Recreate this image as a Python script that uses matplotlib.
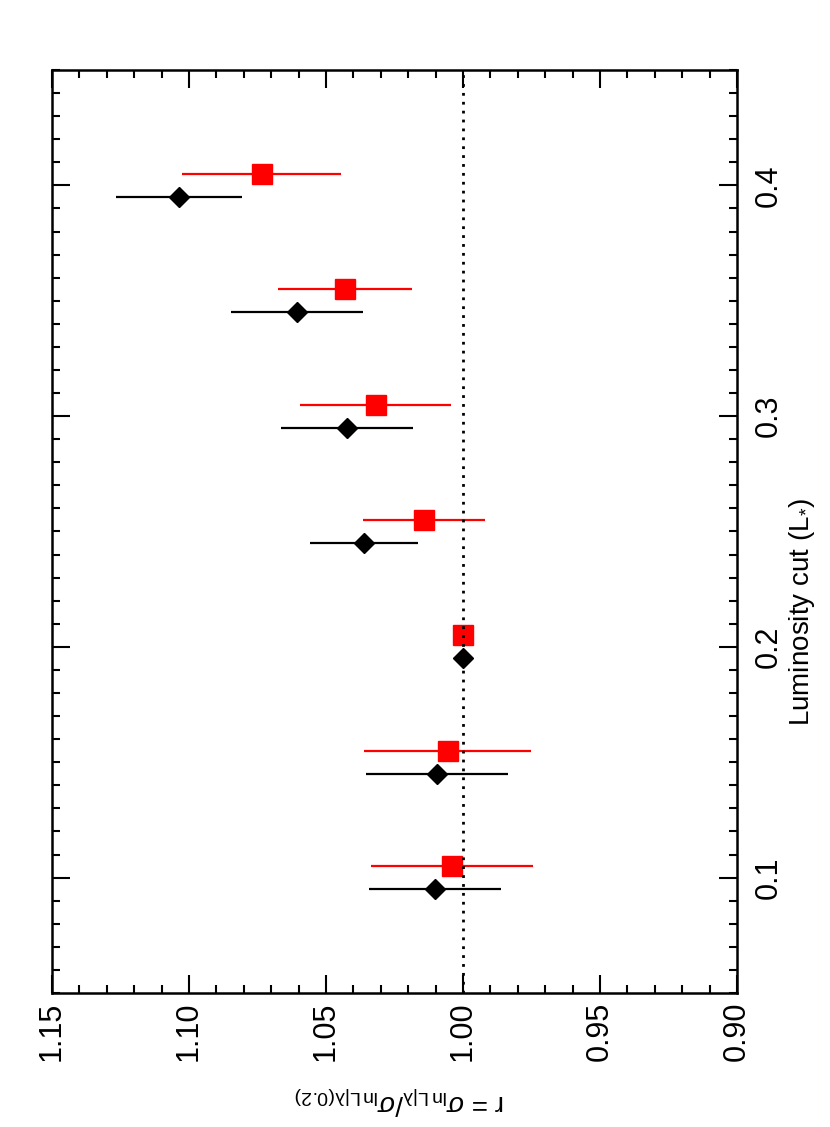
import numpy as np
import matplotlib.pyplot as plt
from matplotlib.ticker import MultipleLocator, FormatStrFormatter

plt.rcParams['font.family'] = ['Liberation Sans', 'DejaVu Sans']
plt.rcParams['mathtext.fontset'] = 'custom'
plt.rcParams['mathtext.rm'] = 'Liberation Sans'
plt.rcParams['mathtext.it'] = 'Liberation Sans:italic'

# Datos
lum_black = [0.095, 0.145, 0.195, 0.245, 0.295, 0.345, 0.395]
r_black = [1.0102, 1.0095, 1.000, 1.0361, 1.0423, 1.0606, 1.1036]
err_black = [0.024, 0.026, 0.0, 0.0197, 0.024, 0.024, 0.023]

lum_red = [0.105, 0.155, 0.205, 0.255, 0.305, 0.355, 0.405]
r_red = [1.004, 1.0055, 1.000, 1.0142, 1.0318, 1.0431, 1.0734]
err_red = [0.0296, 0.0305, 0.0, 0.0224, 0.0276, 0.0245, 0.029]

fig = plt.figure(figsize=(8.3, 11.27), dpi=100)
ax = fig.add_axes([52/830, 134/1127, 685/830, 923/1127])

# Línea de referencia r = 1
ax.axvline(1.0, color='k', ls=(0, (1, 2.2)), lw=2, zorder=5)

ax.errorbar(r_black, lum_black, xerr=err_black, fmt='D', color='k', ms=9.8,
            elinewidth=1.6, capsize=0, zorder=3)
ax.errorbar(r_red, lum_red, xerr=err_red, fmt='s', color='red', ms=14.5,
            elinewidth=1.6, capsize=0, zorder=3)

ax.set_xlim(1.15, 0.90)
ax.set_ylim(0.05, 0.45)

ax.xaxis.set_major_locator(MultipleLocator(0.05))
ax.xaxis.set_minor_locator(MultipleLocator(0.01))
ax.xaxis.set_major_formatter(FormatStrFormatter('%.2f'))
ax.yaxis.set_major_locator(MultipleLocator(0.1))
ax.yaxis.set_minor_locator(MultipleLocator(0.01))
ax.yaxis.set_major_formatter(FormatStrFormatter('%.1f'))

ax.tick_params(which='both', direction='in', top=True, bottom=True,
               left=True, right=True, width=1.5)
ax.tick_params(which='major', length=13)
ax.tick_params(which='minor', length=5.5)
ax.tick_params(axis='x', labelsize=22, labelrotation=90, pad=6)
ax.tick_params(axis='y', labelsize=22, labelrotation=90, pad=12,
               labelleft=False, labelright=True)
for lab in ax.get_yticklabels():
    lab.set_verticalalignment('center')

for s in ax.spines.values():
    s.set_linewidth(1.8)

fig.text(802/830, 1 - 612/1127, r'Luminosity cut (L$_{*}$)', rotation=90,
         fontsize=20, ha='center', va='center')
fig.text(400/830, 1 - 1100/1127,
         r'r = $\sigma_{\rm ln\,L|\lambda}/\sigma_{\rm ln\,L|\lambda(0.2)}$',
         rotation=180, fontsize=20, ha='center', va='center')

fig.savefig('out.png', dpi=100)
